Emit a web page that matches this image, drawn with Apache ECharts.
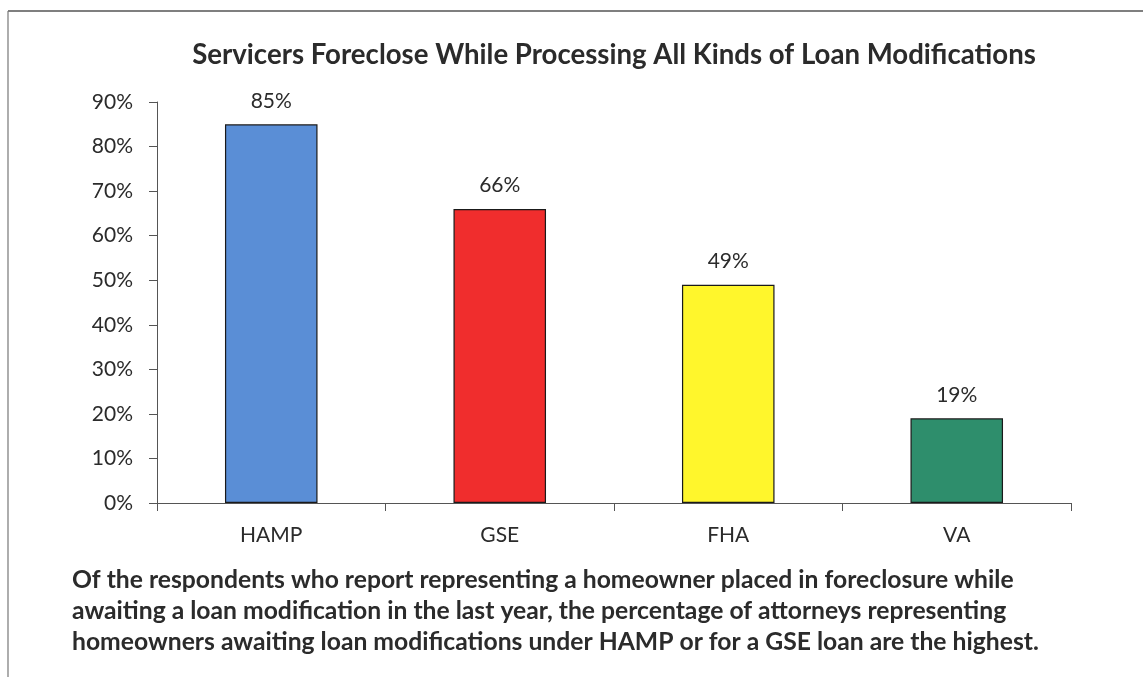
<!DOCTYPE html>
<html>
<head>
<meta charset="utf-8">
<style>
html,body{margin:0;padding:0;background:#fff;}
#c{width:1143px;height:677px;}
</style>
<script src="https://cdn.jsdelivr.net/npm/echarts@6/dist/echarts.min.js"></script>
</head>
<body>
<div id="c"></div>
<script>
const categories = ['HAMP', 'GSE', 'FHA', 'VA'];
const values = [85, 66, 49, 19];
const barColors = ['#5A8ED6', '#F02D2D', '#FFF62C', '#2E8E6C'];
const yTicks = { min: 0, max: 90, interval: 10 };
const titleText = 'Servicers Foreclose While Processing All Kinds of Loan Modifications';
const captionLines = [
  'Of the respondents who report representing a homeowner placed in foreclosure while',
  'awaiting a loan modification in the last year, the percentage of attorneys representing',
  'homeowners awaiting loan modifications under HAMP or for a GSE loan are the highest.'
];

const chart = echarts.init(document.getElementById('c'));
const font = 'Lato, "Open Sans", sans-serif';
chart.setOption({
  backgroundColor: '#fff',
  animation: false,
  title: {
    text: titleText,
    left: 609, top: 36, textAlign: 'center',
    textStyle: { fontFamily: font, fontSize: 27.6, fontWeight: 'bold', color: '#2b2b2b' }
  },
  grid: { left: 157, right: 72, top: 102, bottom: 174 },
  xAxis: {
    type: 'category',
    data: categories,
    axisLine: { lineStyle: { color: '#555', width: 1 } },
    axisTick: { show: true, length: 8, alignWithLabel: false, lineStyle: { color: '#555' } },
    axisLabel: { margin: 22, fontFamily: font, fontSize: 21, color: '#2b2b2b' }
  },
  yAxis: {
    type: 'value',
    min: yTicks.min, max: yTicks.max, interval: yTicks.interval,
    splitLine: { show: false },
    axisLine: { show: true, lineStyle: { color: '#555', width: 1 } },
    axisTick: { show: true, length: 8, lineStyle: { color: '#555' } },
    axisLabel: { margin: 24, formatter: '{value}%', fontFamily: font, fontSize: 21, color: '#2b2b2b' }
  },
  series: [{
    type: 'bar',
    barWidth: '40.5%',
    data: values.map((v, i) => ({
      value: v,
      itemStyle: { color: barColors[i], borderColor: '#1a1a1a', borderWidth: 1.2 }
    })),
    label: {
      show: true, position: 'top', distance: 13,
      formatter: '{c}%', fontFamily: font, fontSize: 21, color: '#2b2b2b'
    }
  }],
  graphic: [
    { type: 'line', shape: { x1: 8, y1: 11, x2: 1143, y2: 11 }, style: { stroke: '#555', lineWidth: 1.5 } },
    { type: 'line', shape: { x1: 8, y1: 11, x2: 8, y2: 677 }, style: { stroke: '#777', lineWidth: 1.2 } },
    {
      type: 'text', left: 72, top: 565,
      style: {
        text: captionLines.join('\n'),
        fontFamily: font, fontSize: 24.7, fontWeight: 'bold', fill: '#2b2b2b', lineHeight: 31
      }
    }
  ]
});
</script>
</body>
</html>
